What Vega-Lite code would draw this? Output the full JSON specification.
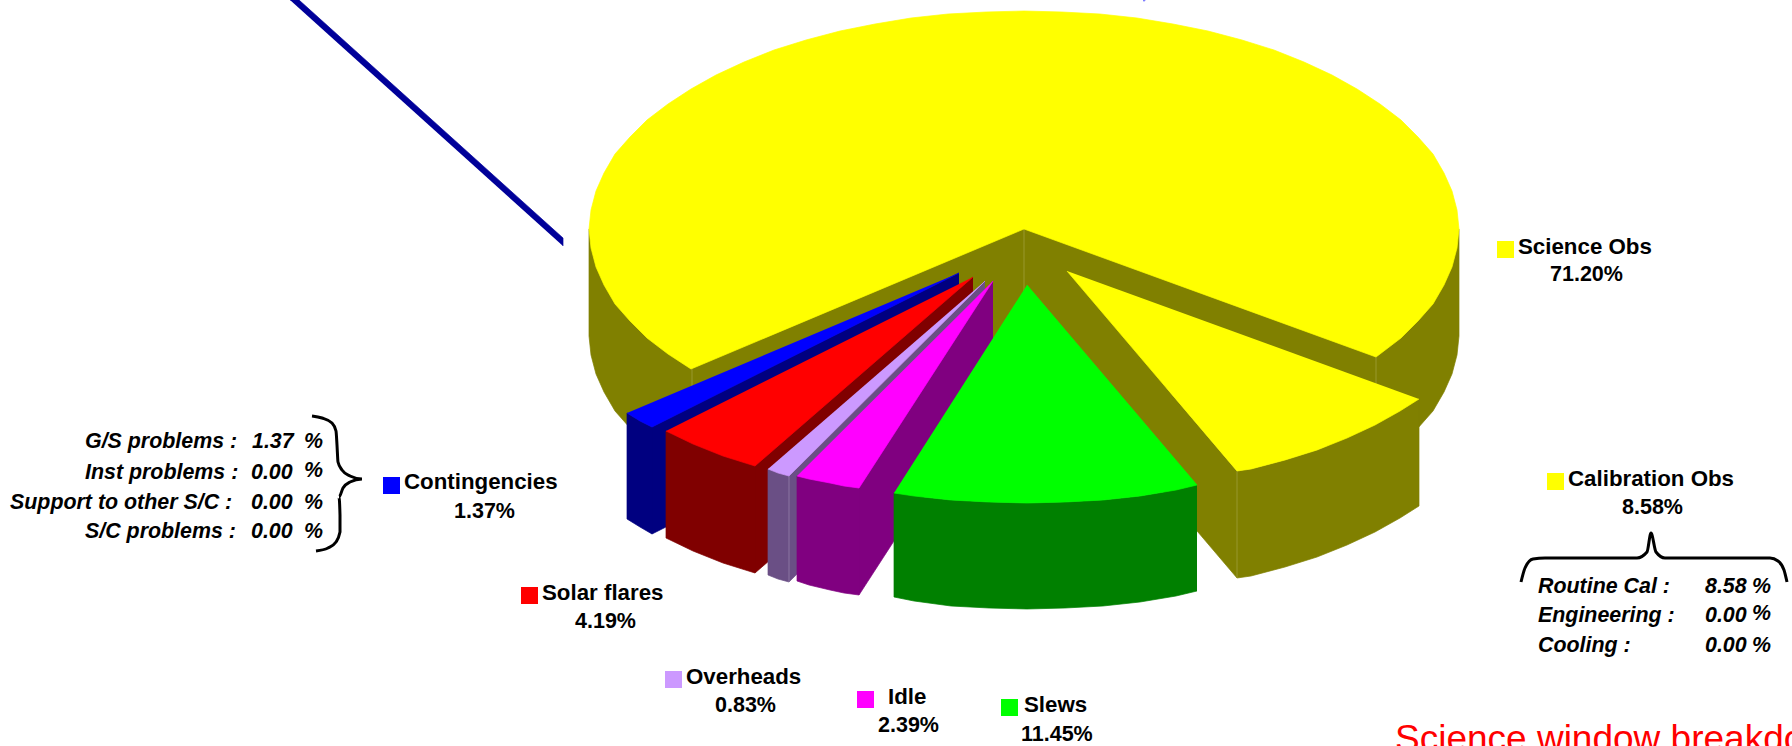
{"$schema":"https://vega.github.io/schema/vega-lite/v6.json","width":1792,"height":746,"padding":0,"autosize":{"type":"none"},"background":"white","config":{"view":{"stroke":null}},
"encoding":{"x":{"field":"x","type":"quantitative","scale":{"domain":[0,1792],"nice":false,"zero":false},"axis":null},"y":{"field":"y","type":"quantitative","scale":{"domain":[746,0],"nice":false,"zero":false},"axis":null}},
"datasets":{"pieces":[
{"piece":"Pointer","i":0,"x":290,"y":0},{"piece":"Pointer","i":1,"x":299,"y":0},{"piece":"Pointer","i":2,"x":563,"y":238},{"piece":"Pointer","i":3,"x":563,"y":246},
{"piece":"Top speck","i":0,"x":1143,"y":0},{"piece":"Top speck","i":1,"x":1145,"y":0},{"piece":"Top speck","i":2,"x":1145,"y":1},{"piece":"Top speck","i":3,"x":1143,"y":1},
{"piece":"Science wall","i":0,"x":1459,"y":229},{"piece":"Science wall","i":1,"x":1459,"y":336},{"piece":"Science wall","i":2,"x":1457,"y":355},{"piece":"Science wall","i":3,"x":1452,"y":374},{"piece":"Science wall","i":4,"x":1444,"y":392},{"piece":"Science wall","i":5,"x":1433,"y":411},{"piece":"Science wall","i":6,"x":1418,"y":428},{"piece":"Science wall","i":7,"x":1401,"y":445},{"piece":"Science wall","i":8,"x":1380,"y":461},{"piece":"Science wall","i":9,"x":1376,"y":464},{"piece":"Science wall","i":10,"x":1024,"y":336},{"piece":"Science wall","i":11,"x":692,"y":476},{"piece":"Science wall","i":12,"x":668,"y":461},{"piece":"Science wall","i":13,"x":647,"y":445},{"piece":"Science wall","i":14,"x":630,"y":428},{"piece":"Science wall","i":15,"x":615,"y":411},{"piece":"Science wall","i":16,"x":604,"y":392},{"piece":"Science wall","i":17,"x":596,"y":374},{"piece":"Science wall","i":18,"x":591,"y":355},{"piece":"Science wall","i":19,"x":589,"y":336},{"piece":"Science wall","i":20,"x":589,"y":229},{"piece":"Science wall","i":21,"x":1024,"y":229},
{"piece":"Science edge A","i":0,"x":1024,"y":229},{"piece":"Science edge A","i":1,"x":1024,"y":336},
{"piece":"Science edge B","i":0,"x":1376,"y":357},{"piece":"Science edge B","i":1,"x":1376,"y":464},
{"piece":"Science edge C","i":0,"x":692,"y":369},{"piece":"Science edge C","i":1,"x":692,"y":476},
{"piece":"Science top","i":0,"x":1024,"y":229},{"piece":"Science top","i":1,"x":1376,"y":357},{"piece":"Science top","i":2,"x":1380,"y":354},{"piece":"Science top","i":3,"x":1401,"y":338},{"piece":"Science top","i":4,"x":1418,"y":321},{"piece":"Science top","i":5,"x":1433,"y":304},{"piece":"Science top","i":6,"x":1444,"y":285},{"piece":"Science top","i":7,"x":1452,"y":267},{"piece":"Science top","i":8,"x":1457,"y":248},{"piece":"Science top","i":9,"x":1459,"y":229},{"piece":"Science top","i":10,"x":1457,"y":210},{"piece":"Science top","i":11,"x":1452,"y":191},{"piece":"Science top","i":12,"x":1444,"y":173},{"piece":"Science top","i":13,"x":1433,"y":154},{"piece":"Science top","i":14,"x":1418,"y":137},{"piece":"Science top","i":15,"x":1401,"y":120},{"piece":"Science top","i":16,"x":1380,"y":104},{"piece":"Science top","i":17,"x":1357,"y":89},{"piece":"Science top","i":18,"x":1332,"y":75},{"piece":"Science top","i":19,"x":1304,"y":62},{"piece":"Science top","i":20,"x":1274,"y":50},{"piece":"Science top","i":21,"x":1242,"y":40},{"piece":"Science top","i":22,"x":1208,"y":31},{"piece":"Science top","i":23,"x":1173,"y":24},{"piece":"Science top","i":24,"x":1137,"y":18},{"piece":"Science top","i":25,"x":1100,"y":14},{"piece":"Science top","i":26,"x":1062,"y":12},{"piece":"Science top","i":27,"x":1024,"y":11},{"piece":"Science top","i":28,"x":986,"y":12},{"piece":"Science top","i":29,"x":948,"y":14},{"piece":"Science top","i":30,"x":911,"y":18},{"piece":"Science top","i":31,"x":875,"y":24},{"piece":"Science top","i":32,"x":840,"y":31},{"piece":"Science top","i":33,"x":806,"y":40},{"piece":"Science top","i":34,"x":774,"y":50},{"piece":"Science top","i":35,"x":744,"y":62},{"piece":"Science top","i":36,"x":716,"y":75},{"piece":"Science top","i":37,"x":691,"y":89},{"piece":"Science top","i":38,"x":668,"y":104},{"piece":"Science top","i":39,"x":647,"y":120},{"piece":"Science top","i":40,"x":630,"y":137},{"piece":"Science top","i":41,"x":615,"y":154},{"piece":"Science top","i":42,"x":604,"y":173},{"piece":"Science top","i":43,"x":596,"y":191},{"piece":"Science top","i":44,"x":591,"y":210},{"piece":"Science top","i":45,"x":589,"y":229},{"piece":"Science top","i":46,"x":591,"y":248},{"piece":"Science top","i":47,"x":596,"y":267},{"piece":"Science top","i":48,"x":604,"y":285},{"piece":"Science top","i":49,"x":615,"y":304},{"piece":"Science top","i":50,"x":630,"y":321},{"piece":"Science top","i":51,"x":647,"y":338},{"piece":"Science top","i":52,"x":668,"y":354},{"piece":"Science top","i":53,"x":691,"y":369},{"piece":"Science top","i":54,"x":1024,"y":229},
{"piece":"Calibration inner wall","i":0,"x":1067,"y":271},{"piece":"Calibration inner wall","i":1,"x":1237,"y":471},{"piece":"Calibration inner wall","i":2,"x":1237,"y":578},{"piece":"Calibration inner wall","i":3,"x":1067,"y":378},
{"piece":"Calibration front wall","i":0,"x":1237,"y":471},{"piece":"Calibration front wall","i":1,"x":1251,"y":469},{"piece":"Calibration front wall","i":2,"x":1285,"y":460},{"piece":"Calibration front wall","i":3,"x":1317,"y":450},{"piece":"Calibration front wall","i":4,"x":1347,"y":438},{"piece":"Calibration front wall","i":5,"x":1375,"y":425},{"piece":"Calibration front wall","i":6,"x":1400,"y":411},{"piece":"Calibration front wall","i":7,"x":1419,"y":399},{"piece":"Calibration front wall","i":8,"x":1419,"y":506},{"piece":"Calibration front wall","i":9,"x":1400,"y":518},{"piece":"Calibration front wall","i":10,"x":1375,"y":532},{"piece":"Calibration front wall","i":11,"x":1347,"y":545},{"piece":"Calibration front wall","i":12,"x":1317,"y":557},{"piece":"Calibration front wall","i":13,"x":1285,"y":567},{"piece":"Calibration front wall","i":14,"x":1251,"y":576},{"piece":"Calibration front wall","i":15,"x":1237,"y":578},
{"piece":"Calibration edge","i":0,"x":1237,"y":471},{"piece":"Calibration edge","i":1,"x":1237,"y":578},
{"piece":"Calibration top","i":0,"x":1067,"y":271},{"piece":"Calibration top","i":1,"x":1237,"y":471},{"piece":"Calibration top","i":2,"x":1251,"y":469},{"piece":"Calibration top","i":3,"x":1285,"y":460},{"piece":"Calibration top","i":4,"x":1317,"y":450},{"piece":"Calibration top","i":5,"x":1347,"y":438},{"piece":"Calibration top","i":6,"x":1375,"y":425},{"piece":"Calibration top","i":7,"x":1400,"y":411},{"piece":"Calibration top","i":8,"x":1419,"y":399},
{"piece":"Contingencies inner wall","i":0,"x":959,"y":273},{"piece":"Contingencies inner wall","i":1,"x":652,"y":427},{"piece":"Contingencies inner wall","i":2,"x":652,"y":534},{"piece":"Contingencies inner wall","i":3,"x":959,"y":380},
{"piece":"Contingencies front wall","i":0,"x":652,"y":427},{"piece":"Contingencies front wall","i":1,"x":640,"y":421},{"piece":"Contingencies front wall","i":2,"x":627,"y":413},{"piece":"Contingencies front wall","i":3,"x":627,"y":519},{"piece":"Contingencies front wall","i":4,"x":640,"y":527},{"piece":"Contingencies front wall","i":5,"x":652,"y":534},
{"piece":"Contingencies top","i":0,"x":959,"y":273},{"piece":"Contingencies top","i":1,"x":652,"y":427},{"piece":"Contingencies top","i":2,"x":640,"y":421},{"piece":"Contingencies top","i":3,"x":627,"y":413},
{"piece":"Solar inner wall","i":0,"x":973,"y":277},{"piece":"Solar inner wall","i":1,"x":755,"y":466},{"piece":"Solar inner wall","i":2,"x":755,"y":573},{"piece":"Solar inner wall","i":3,"x":973,"y":384},
{"piece":"Solar front wall","i":0,"x":755,"y":466},{"piece":"Solar front wall","i":1,"x":723,"y":456},{"piece":"Solar front wall","i":2,"x":693,"y":444},{"piece":"Solar front wall","i":3,"x":666,"y":431},{"piece":"Solar front wall","i":4,"x":666,"y":538},{"piece":"Solar front wall","i":5,"x":693,"y":551},{"piece":"Solar front wall","i":6,"x":723,"y":563},{"piece":"Solar front wall","i":7,"x":755,"y":573},
{"piece":"Solar top","i":0,"x":973,"y":277},{"piece":"Solar top","i":1,"x":755,"y":466},{"piece":"Solar top","i":2,"x":723,"y":456},{"piece":"Solar top","i":3,"x":693,"y":444},{"piece":"Solar top","i":4,"x":666,"y":431},
{"piece":"Overheads inner wall","i":0,"x":985,"y":281},{"piece":"Overheads inner wall","i":1,"x":789,"y":476},{"piece":"Overheads inner wall","i":2,"x":789,"y":582},{"piece":"Overheads inner wall","i":3,"x":985,"y":388},
{"piece":"Overheads front wall","i":0,"x":789,"y":476},{"piece":"Overheads front wall","i":1,"x":778,"y":473},{"piece":"Overheads front wall","i":2,"x":768,"y":469},{"piece":"Overheads front wall","i":3,"x":768,"y":575},{"piece":"Overheads front wall","i":4,"x":778,"y":579},{"piece":"Overheads front wall","i":5,"x":789,"y":582},
{"piece":"Overheads edge","i":0,"x":789,"y":476},{"piece":"Overheads edge","i":1,"x":789,"y":582},
{"piece":"Overheads top","i":0,"x":985,"y":281},{"piece":"Overheads top","i":1,"x":789,"y":476},{"piece":"Overheads top","i":2,"x":778,"y":473},{"piece":"Overheads top","i":3,"x":768,"y":469},
{"piece":"Idle inner wall","i":0,"x":993,"y":281},{"piece":"Idle inner wall","i":1,"x":859,"y":488},{"piece":"Idle inner wall","i":2,"x":859,"y":595},{"piece":"Idle inner wall","i":3,"x":993,"y":388},
{"piece":"Idle front wall","i":0,"x":859,"y":488},{"piece":"Idle front wall","i":1,"x":844,"y":486},{"piece":"Idle front wall","i":2,"x":830,"y":483},{"piece":"Idle front wall","i":3,"x":809,"y":479},{"piece":"Idle front wall","i":4,"x":797,"y":476},{"piece":"Idle front wall","i":5,"x":797,"y":581},{"piece":"Idle front wall","i":6,"x":809,"y":585},{"piece":"Idle front wall","i":7,"x":830,"y":590},{"piece":"Idle front wall","i":8,"x":844,"y":593},{"piece":"Idle front wall","i":9,"x":859,"y":595},
{"piece":"Idle top","i":0,"x":993,"y":281},{"piece":"Idle top","i":1,"x":859,"y":488},{"piece":"Idle top","i":2,"x":844,"y":486},{"piece":"Idle top","i":3,"x":830,"y":483},{"piece":"Idle top","i":4,"x":809,"y":479},{"piece":"Idle top","i":5,"x":797,"y":476},
{"piece":"Slews front wall","i":0,"x":1197,"y":485},{"piece":"Slews front wall","i":1,"x":1176,"y":490},{"piece":"Slews front wall","i":2,"x":1140,"y":496},{"piece":"Slews front wall","i":3,"x":1103,"y":500},{"piece":"Slews front wall","i":4,"x":1065,"y":502},{"piece":"Slews front wall","i":5,"x":1027,"y":503},{"piece":"Slews front wall","i":6,"x":989,"y":502},{"piece":"Slews front wall","i":7,"x":951,"y":500},{"piece":"Slews front wall","i":8,"x":914,"y":496},{"piece":"Slews front wall","i":9,"x":894,"y":493},{"piece":"Slews front wall","i":10,"x":894,"y":597},{"piece":"Slews front wall","i":11,"x":914,"y":601},{"piece":"Slews front wall","i":12,"x":951,"y":606},{"piece":"Slews front wall","i":13,"x":989,"y":608},{"piece":"Slews front wall","i":14,"x":1027,"y":609},{"piece":"Slews front wall","i":15,"x":1065,"y":608},{"piece":"Slews front wall","i":16,"x":1103,"y":606},{"piece":"Slews front wall","i":17,"x":1140,"y":602},{"piece":"Slews front wall","i":18,"x":1176,"y":596},{"piece":"Slews front wall","i":19,"x":1197,"y":591},
{"piece":"Slews top","i":0,"x":1027,"y":285},{"piece":"Slews top","i":1,"x":1197,"y":485},{"piece":"Slews top","i":2,"x":1176,"y":490},{"piece":"Slews top","i":3,"x":1140,"y":496},{"piece":"Slews top","i":4,"x":1103,"y":500},{"piece":"Slews top","i":5,"x":1065,"y":502},{"piece":"Slews top","i":6,"x":1027,"y":503},{"piece":"Slews top","i":7,"x":989,"y":502},{"piece":"Slews top","i":8,"x":951,"y":500},{"piece":"Slews top","i":9,"x":914,"y":496},{"piece":"Slews top","i":10,"x":894,"y":493}
],
"braces":[
{"brace":"Contingencies","i":0,"x":312,"y":416},{"brace":"Contingencies","i":1,"x":322,"y":418},{"brace":"Contingencies","i":2,"x":332,"y":423},{"brace":"Contingencies","i":3,"x":336,"y":431},{"brace":"Contingencies","i":4,"x":337,"y":445},{"brace":"Contingencies","i":5,"x":338,"y":462},{"brace":"Contingencies","i":6,"x":342,"y":470},{"brace":"Contingencies","i":7,"x":350,"y":476},{"brace":"Contingencies","i":8,"x":362,"y":479},{"brace":"Contingencies","i":9,"x":350,"y":482},{"brace":"Contingencies","i":10,"x":343,"y":488},{"brace":"Contingencies","i":11,"x":339,"y":497},{"brace":"Contingencies","i":12,"x":340,"y":515},{"brace":"Contingencies","i":13,"x":340,"y":532},{"brace":"Contingencies","i":14,"x":336,"y":542},{"brace":"Contingencies","i":15,"x":328,"y":548},{"brace":"Contingencies","i":16,"x":316,"y":551},
{"brace":"Calibration","i":0,"x":1521,"y":582},{"brace":"Calibration","i":1,"x":1525,"y":568},{"brace":"Calibration","i":2,"x":1533,"y":559},{"brace":"Calibration","i":3,"x":1545,"y":558},{"brace":"Calibration","i":4,"x":1637,"y":558},{"brace":"Calibration","i":5,"x":1647,"y":552},{"brace":"Calibration","i":6,"x":1651,"y":533},{"brace":"Calibration","i":7,"x":1656,"y":552},{"brace":"Calibration","i":8,"x":1665,"y":558},{"brace":"Calibration","i":9,"x":1770,"y":558},{"brace":"Calibration","i":10,"x":1778,"y":561},{"brace":"Calibration","i":11,"x":1784,"y":570},{"brace":"Calibration","i":12,"x":1787,"y":582}
]},
"layer":[
{"data":{"name":"pieces"},"mark":{"type":"line","filled":true,"strokeWidth":0.7,"interpolate":"linear"},
"encoding":{"order":{"field":"i","type":"quantitative"},
"fill":{"field":"piece","type":"nominal","legend":null,"sort":null,"scale":{"domain":["Pointer","Top speck","Science wall","Science edge A","Science edge B","Science edge C","Science top","Calibration inner wall","Calibration front wall","Calibration edge","Calibration top","Contingencies inner wall","Contingencies front wall","Contingencies top","Solar inner wall","Solar front wall","Solar top","Overheads inner wall","Overheads front wall","Overheads edge","Overheads top","Idle inner wall","Idle front wall","Idle top","Slews front wall","Slews top"],"range":["#000099","#8080FF","#808000","#A3A340","#A3A340","#A3A340","#FFFF00","#808000","#808000","#A3A340","#FFFF00","#000080","#000080","#0000FF","#800000","#800000","#FF0000","#6A4F85","#6A4F85","#9A88B0","#CC99FF","#800080","#800080","#FF00FF","#008000","#00FF00"]}},
"stroke":{"field":"piece","type":"nominal","legend":null,"sort":null,"scale":{"domain":["Pointer","Top speck","Science wall","Science edge A","Science edge B","Science edge C","Science top","Calibration inner wall","Calibration front wall","Calibration edge","Calibration top","Contingencies inner wall","Contingencies front wall","Contingencies top","Solar inner wall","Solar front wall","Solar top","Overheads inner wall","Overheads front wall","Overheads edge","Overheads top","Idle inner wall","Idle front wall","Idle top","Slews front wall","Slews top"],"range":["#000099","#8080FF","#808000","#A3A340","#A3A340","#A3A340","#FFFF00","#808000","#808000","#A3A340","#FFFF00","#000080","#000080","#0000FF","#800000","#800000","#FF0000","#6A4F85","#6A4F85","#9A88B0","#CC99FF","#800080","#800080","#FF00FF","#008000","#00FF00"]}}}},
{"data":{"name":"braces"},"mark":{"type":"line","stroke":"black","strokeWidth":3,"interpolate":"monotone"},
"encoding":{"order":{"field":"i","type":"quantitative"},"detail":{"field":"brace"}}},
{"data":{"values":[{"label":"Science Obs","x":1505.5,"y":249.5},{"label":"Calibration Obs","x":1555.5,"y":481.5},{"label":"Contingencies","x":391.5,"y":485.5},{"label":"Solar flares","x":529.5,"y":595.5},{"label":"Overheads","x":673.5,"y":679.5},{"label":"Idle","x":865.5,"y":699.5},{"label":"Slews","x":1009.5,"y":707.5}]},
"mark":{"type":"square","size":289,"filled":true,"opacity":1},
"encoding":{"color":{"field":"label","type":"nominal","legend":null,"scale":{"domain":["Science Obs","Calibration Obs","Contingencies","Solar flares","Overheads","Idle","Slews"],"range":["#FFFF00","#FFFF00","#0000FF","#FF0000","#CC99FF","#FF00FF","#00FF00"]}}}},
{"data":{"values":[{"t":"Science Obs","x":1518,"y":254},{"t":"Calibration Obs","x":1568,"y":486},{"t":"Contingencies","x":404,"y":489},{"t":"Solar flares","x":542,"y":600},{"t":"Overheads","x":686,"y":684},{"t":"Idle","x":888,"y":704},{"t":"Slews","x":1024,"y":712}]},
"mark":{"type":"text","font":"Liberation Sans","fontWeight":"bold","fontSize":22.3,"align":"left","baseline":"alphabetic","color":"black"},
"encoding":{"text":{"field":"t"}}},
{"data":{"values":[{"t":"71.20%","x":1550,"y":281},{"t":"8.58%","x":1622,"y":514},{"t":"1.37%","x":454,"y":518},{"t":"4.19%","x":575,"y":628},{"t":"0.83%","x":715,"y":712},{"t":"2.39%","x":878,"y":732},{"t":"11.45%","x":1021,"y":741}]},
"mark":{"type":"text","font":"Liberation Sans","fontWeight":"bold","fontSize":21.5,"align":"left","baseline":"alphabetic","color":"black"},
"encoding":{"text":{"field":"t"}}},
{"data":{"values":[{"t":"G/S problems :","x":85,"y":448},{"t":"1.37","x":252,"y":448},{"t":"%","x":304,"y":448},{"t":"Inst problems :","x":85,"y":479},{"t":"0.00","x":251,"y":479},{"t":"%","x":304,"y":477},{"t":"Support to other S/C :","x":10,"y":509},{"t":"0.00","x":251,"y":509},{"t":"%","x":304,"y":509},{"t":"S/C problems :","x":85,"y":538},{"t":"0.00","x":251,"y":538},{"t":"%","x":304,"y":538},{"t":"Routine Cal :","x":1538,"y":593},{"t":"8.58","x":1705,"y":593},{"t":"%","x":1752,"y":593},{"t":"Engineering :","x":1538,"y":622},{"t":"0.00","x":1705,"y":622},{"t":"%","x":1752,"y":620},{"t":"Cooling :","x":1538,"y":652},{"t":"0.00","x":1705,"y":652},{"t":"%","x":1752,"y":652}]},
"mark":{"type":"text","font":"Liberation Sans","fontWeight":"bold","fontStyle":"italic","fontSize":21.4,"align":"left","baseline":"alphabetic","color":"black"},
"encoding":{"text":{"field":"t"}}},
{"data":{"values":[{"t":"Science window breakdown","x":1395,"y":751}]},
"mark":{"type":"text","font":"Liberation Sans","fontSize":37,"align":"left","baseline":"alphabetic","color":"#FF0000"},
"encoding":{"text":{"field":"t"}}}
]}
